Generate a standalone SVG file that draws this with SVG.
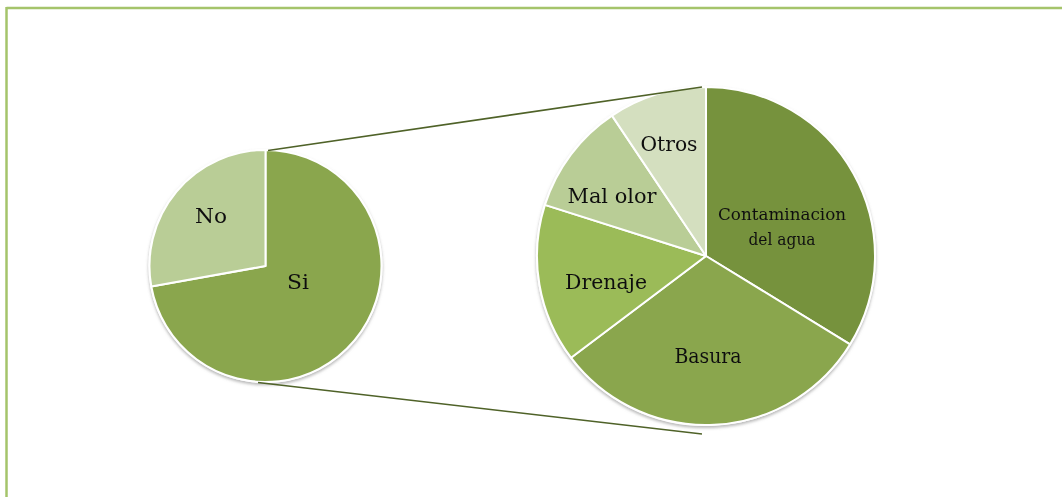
<svg xmlns="http://www.w3.org/2000/svg" width="1062" height="497" viewBox="0 0 1062 497">
  <style>
    .frame { stroke: #a5c46b; stroke-width: 2.5; fill: none; }
    .slice { stroke: #ffffff; stroke-width: 2; stroke-linejoin: round; }
    .conn { stroke: #4f6228; stroke-width: 1.6; fill: none; }
    .lbl { font-family: "DejaVu Serif", "Liberation Serif", serif; fill: #111111; text-anchor: middle; }
  </style>
  <defs>
    <filter id="shadow" x="-10%" y="-10%" width="120%" height="125%">
      <feDropShadow dx="0" dy="2" stdDeviation="1.6" flood-color="#7f7f7f" flood-opacity="0.55"/>
    </filter>
  </defs>
  <rect width="1062" height="497" fill="#ffffff"/>
  <g id="frame">
    <line class="frame" x1="6.5" y1="8" x2="1062" y2="8"/>
    <line class="frame" x1="6.5" y1="7" x2="6.5" y2="497"/>
  </g>

  <g id="pie-left" filter="url(#shadow)">
    <circle cx="265.5" cy="266" r="117" fill="#ffffff"/>
    <g id="slice-si">
      <path class="slice" fill="#8aa64e" d="M265.5,266 L151.3,286.5 A116,116 0 1 0 265.5,150 Z"/>
      <text class="lbl" x="298" y="289" font-size="20" textLength="22" lengthAdjust="spacingAndGlyphs">Si</text>
    </g>
    <g id="slice-no">
      <path class="slice" fill="#b9cd96" d="M265.5,266 L265.5,150 A116,116 0 0 0 151.3,286.5 Z"/>
      <text class="lbl" x="211" y="223" font-size="20" textLength="32" lengthAdjust="spacingAndGlyphs">No</text>
    </g>
  </g>

  <g id="pie-right" filter="url(#shadow)">
    <circle cx="706" cy="256" r="170" fill="#ffffff"/>
    <g id="slice-contaminacion">
      <path class="slice" fill="#76923c" d="M706,256 L706,87 A169,169 0 0 1 850.1,344.3 Z"/>
      <text class="lbl" x="782" y="220" font-size="16.5" textLength="128" lengthAdjust="spacingAndGlyphs">Contaminacion</text>
      <text class="lbl" x="782" y="245" font-size="16.5" textLength="67" lengthAdjust="spacingAndGlyphs">del agua</text>
    </g>
    <g id="slice-basura">
      <path class="slice" fill="#8aa64e" d="M706,256 L850.1,344.3 A169,169 0 0 1 571,357.7 Z"/>
      <text class="lbl" x="708" y="363" font-size="19.5" textLength="67" lengthAdjust="spacingAndGlyphs">Basura</text>
    </g>
    <g id="slice-drenaje">
      <path class="slice" fill="#9bbb59" d="M706,256 L571,357.7 A169,169 0 0 1 544.9,204.9 Z"/>
      <text class="lbl" x="606" y="289" font-size="20" textLength="82" lengthAdjust="spacingAndGlyphs">Drenaje</text>
    </g>
    <g id="slice-malolor">
      <path class="slice" fill="#b9cd96" d="M706,256 L544.9,204.9 A169,169 0 0 1 612,115.6 Z"/>
      <text class="lbl" x="612" y="203" font-size="20" textLength="89" lengthAdjust="spacingAndGlyphs">Mal olor</text>
    </g>
    <g id="slice-otros">
      <path class="slice" fill="#d4dfbf" d="M706,256 L612,115.6 A169,169 0 0 1 706,87 Z"/>
      <text class="lbl" x="669" y="151" font-size="20" textLength="57" lengthAdjust="spacingAndGlyphs">Otros</text>
    </g>
  </g>

  <g id="connectors">
    <line class="conn" x1="268" y1="150.5" x2="702" y2="87"/>
    <line class="conn" x1="258" y1="382.5" x2="702" y2="434"/>
  </g>
</svg>
